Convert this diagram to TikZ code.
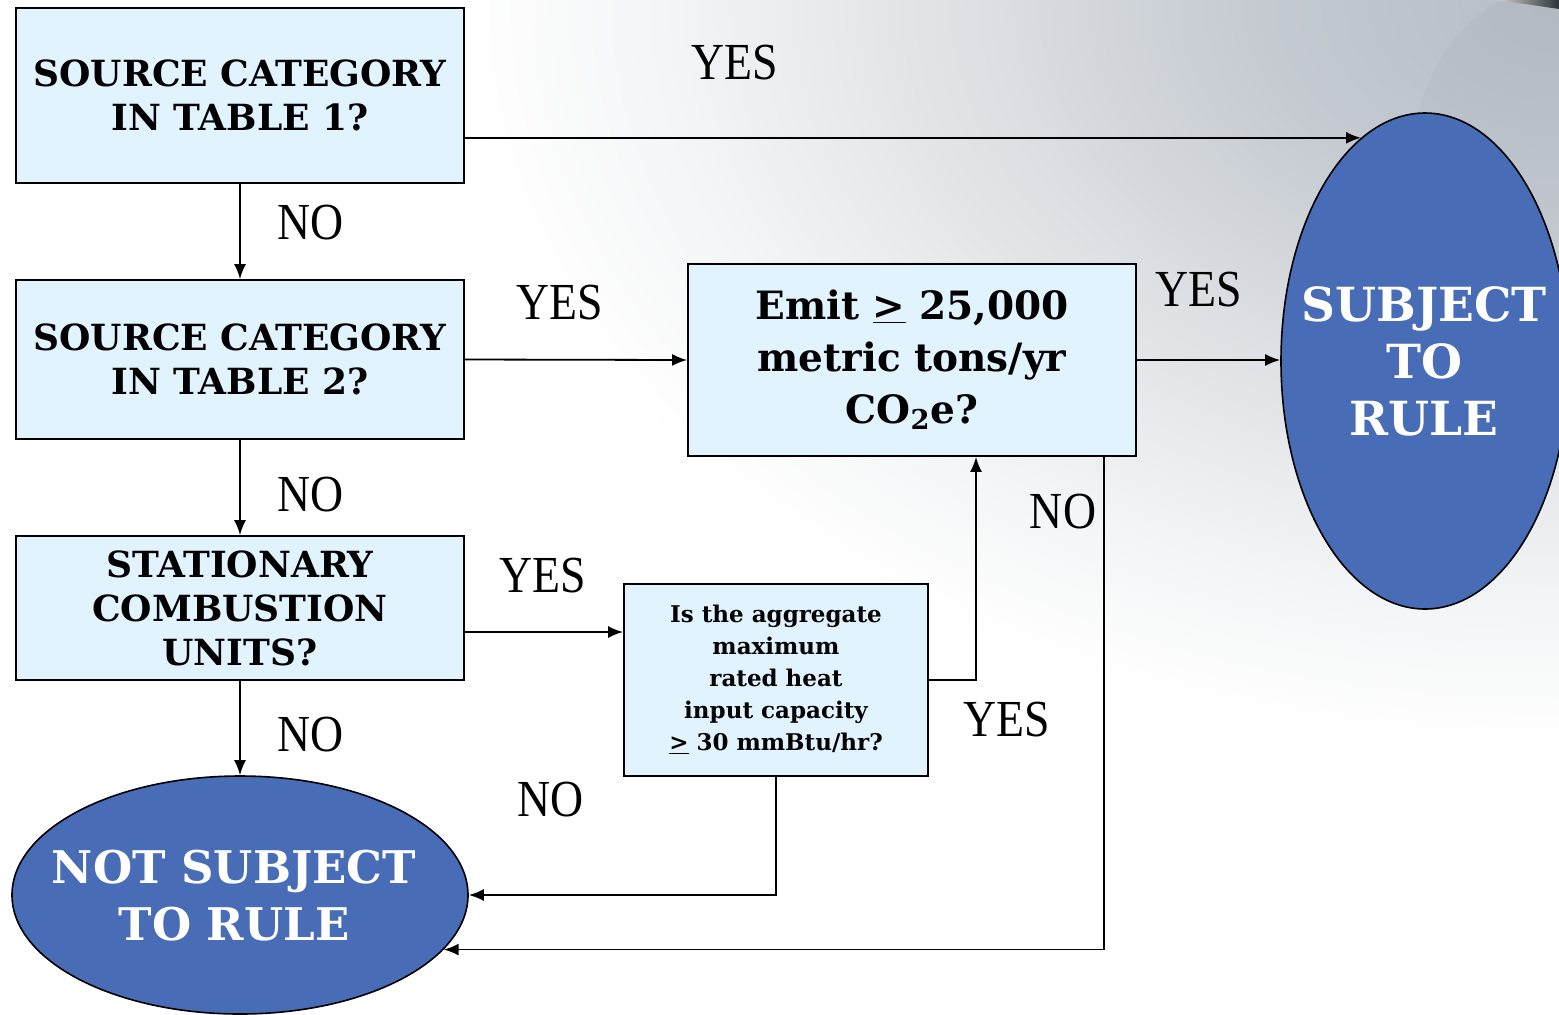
\documentclass[tikz,border=0pt]{standalone}
\usepackage{fontspec}
\setmainfont{Liberation Serif}
\newfontfamily\boxfont{DejaVu Serif}
\newfontfamily\ansfont[FakeStretch=0.88]{Liberation Serif}
\usetikzlibrary{arrows.meta,shapes.geometric}
\definecolor{boxblue}{HTML}{E1F3FE}
\definecolor{capblue}{HTML}{486CB6}
\definecolor{bggrey}{HTML}{B6BDC5}
\definecolor{swoosh}{HTML}{2F3236}
\pgfdeclareradialshading{cornerfade}{\pgfpointorigin}{color(0bp)=(bggrey);
  color(3bp)=(bggrey!80!white); color(6bp)=(bggrey!45!white);
  color(9bp)=(bggrey!15!white); color(11bp)=(white); color(50bp)=(white)}

\tikzset{
  qbox/.style={draw=black, line width=0.9pt, fill=boxblue, align=center, inner sep=2pt,
    font=\boxfont\bfseries\fontsize{18}{22}\selectfont},
  capoval/.style={ellipse, draw=black, line width=0.8pt, fill=capblue, inner sep=0pt},
  captext/.style={text=white, align=center, font=\boxfont\bfseries\fontsize{23.5}{28.5}\selectfont},
  ans/.style={font=\ansfont\fontsize{26}{30}\selectfont},
  flow/.style={line width=0.9pt, -{Latex[length=7.5pt,width=6pt]}},
}

\begin{document}
\begin{tikzpicture}[x=0.5pt,y=-0.5pt]
\useasboundingbox (0,0) rectangle (1559,1014);

% background
\begin{scope}
\clip (0,0) rectangle (1559,1014);
\fill [white] (0,0) rectangle (1559,1014);
\shade [shading=cornerfade] (1559,0) ellipse (2500 and 1700);
\fill [bggrey!60!black, opacity=0.05] (1590,150) circle (175);
\shade [left color=swoosh!20, right color=swoosh] (1495,0) .. controls (1525,4) .. (1559,9) -- (1559,0) -- cycle;
\end{scope}

% questions
\node [qbox, minimum width=224pt, minimum height=87.5pt] (tab1) at (240,95.5) {SOURCE CATEGORY\\IN TABLE 1?};
\node [qbox, minimum width=224pt, minimum height=79.5pt] (tab2) at (240,359.5) {SOURCE CATEGORY\\IN TABLE 2?};
\node [qbox, minimum width=224pt, minimum height=72pt] (comb) at (240,608) {STATIONARY\\COMBUSTION\\UNITS?};
\node [qbox, font=\boxfont\bfseries\fontsize{19.5}{26}\selectfont, minimum width=224pt, minimum height=96pt]
  (emit) at (912,360) {Emit \underline{>} 25,000\\metric tons/yr\\CO\textsubscript{2}e?};
\node [qbox, font=\boxfont\bfseries\fontsize{11.5}{16}\selectfont, minimum width=152pt, minimum height=96pt]
  (heat) at (776,680) {Is the aggregate\\maximum\\rated heat\\input capacity\\\underline{>} 30 mmBtu/hr?};

% outcomes
\node [capoval, minimum width=144pt, minimum height=248pt] (subj) at (1425,361) {};
\node [captext] (subjtext) at (1424,361) {SUBJECT\\TO\\RULE};
\node [capoval, minimum width=228pt, minimum height=119pt] (nsub) at (240,895) {};
\node [captext, font=\boxfont\bfseries\fontsize{22.5}{28.5}\selectfont] (nsubtext) at (234,896) {NOT SUBJECT\\TO RULE};

% connectors
\coordinate (heatin) at ([yshift=24pt]heat.west);
\draw [flow] (tab1.east |- subj.106) -- (subj.106);
\draw [flow] (tab1) -- (tab2);
\draw [flow] (tab2) -- (comb);
\draw [flow] (comb) -- (nsub);
\draw [flow] (tab2.east) -- (emit.west);
\draw [flow] (emit.east) -- (emit.east -| subj.west);
\draw [flow] (comb.east |- heatin) -- (heatin);
\draw [flow] (heat.east) -| ([xshift=32pt]emit.south);
\draw [flow] (heat.south) |- (nsub.east);
\draw [flow] ([xshift=96pt]emit.south) |- (nsub.-15);

% answers
\node [ans] (yes1) at (735,63) {YES};
\node [ans] (no1) at (311,223) {NO};
\node [ans] (yes2) at (560,303) {YES};
\node [ans] (no2) at (311,495) {NO};
\node [ans] (yes3) at (1199,290) {YES};
\node [ans] (yes4) at (543,576) {YES};
\node [ans] (no3) at (311,735) {NO};
\node [ans] (yes5) at (1007,720) {YES};
\node [ans] (no4) at (551,800) {NO};
\node [ans] (no5) at (1063,512) {NO};

\end{tikzpicture}
\end{document}
